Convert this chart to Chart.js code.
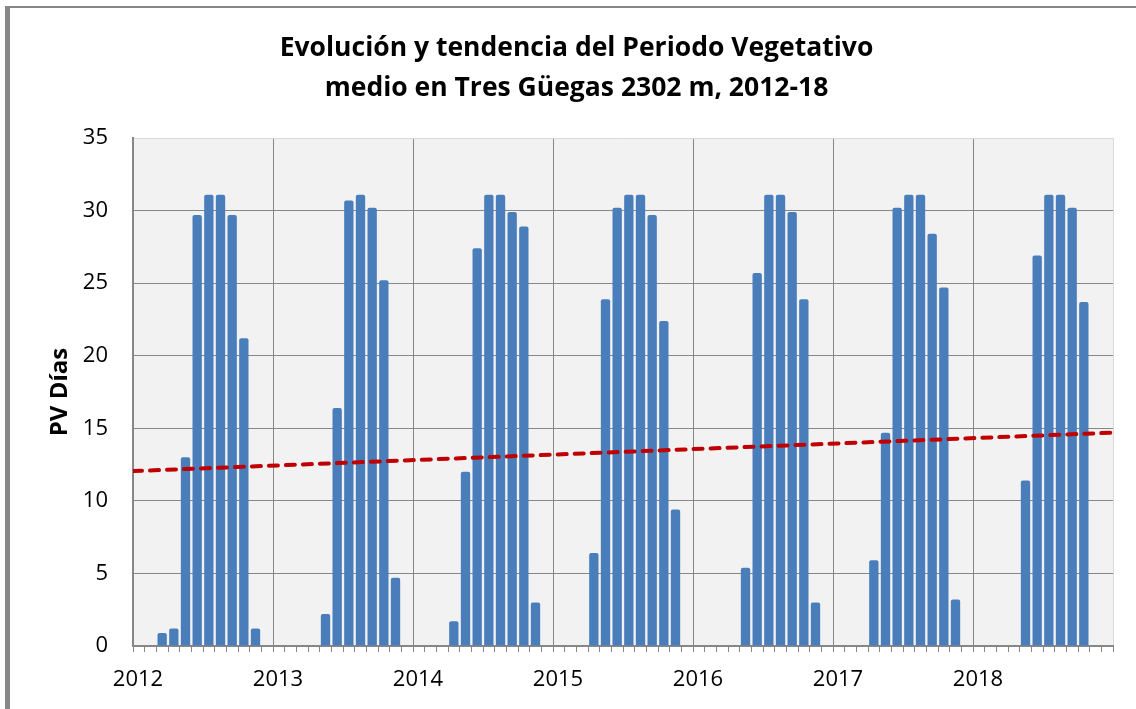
<!DOCTYPE html>
<html lang="es">
<head>
    <meta charset="UTF-8">
    <title>Periodo Vegetativo Tres Güegas</title>
    <script src="https://cdn.jsdelivr.net/npm/chart.js"></script>
    <style>
        body { margin: 0; background: #fff; }
        #wrap { position: relative; width: 1136px; height: 709px; }
        #frame {
            position: absolute; left: 5px; top: 6px; right: -10px; bottom: -10px;
            border-left: 5px solid #878787; border-top: 2px solid #878787;
            pointer-events: none;
        }
    </style>
</head>
<body>
    <div id="wrap">
        <canvas id="pvChart"></canvas>
        <div id="frame"></div>
    </div>

    <script>
        // Años y meses del eje
        var years = ['2012', '2013', '2014', '2015', '2016', '2017', '2018'];
        var months = ['ene', 'feb', 'mar', 'abr', 'may', 'jun', 'jul', 'ago', 'sep', 'oct', 'nov', 'dic'];

        // Días de periodo vegetativo por mes
        var pv2012 = [0, 0, 0.9, 1.2, 13.0, 29.7, 31.1, 31.1, 29.7, 21.2, 1.2, 0];
        var pv2013 = [0, 0, 0, 0, 2.2, 16.4, 30.7, 31.1, 30.2, 25.2, 4.7, 0];
        var pv2014 = [0, 0, 0, 1.7, 12.0, 27.4, 31.1, 31.1, 29.9, 28.9, 3.0, 0];
        var pv2015 = [0, 0, 0, 6.4, 23.9, 30.2, 31.1, 31.1, 29.7, 22.4, 9.4, 0];
        var pv2016 = [0, 0, 0, 0, 5.4, 25.7, 31.1, 31.1, 29.9, 23.9, 3.0, 0];
        var pv2017 = [0, 0, 0, 5.9, 14.7, 30.2, 31.1, 31.1, 28.4, 24.7, 3.2, 0];
        var pv2018 = [0, 0, 0, 0, 11.4, 26.9, 31.1, 31.1, 30.2, 23.7, 0, 0];

        // Línea de tendencia: valor al inicio (ene 2012) y al final (dic 2018)
        var trendStart = 12.05;
        var trendEnd = 14.7;

        var yTicks = [0, 5, 10, 15, 20, 25, 30, 35];

        var pvValues = [].concat(pv2012, pv2013, pv2014, pv2015, pv2016, pv2017, pv2018);
        var nMonths = years.length * months.length;

        // cada mes ocupa una unidad del eje; la barra va en el centro del mes
        var barData = pvValues.map(function(v, i) {
            return { x: i + 0.5, y: v };
        });

        var gridColor = '#878787';
        var fontFamily = '"Open Sans", sans-serif';

        // Fondo gris del área de trazado
        var plotBg = {
            id: 'plotBg',
            beforeDraw: function(chart) {
                var a = chart.chartArea;
                chart.ctx.save();
                chart.ctx.fillStyle = '#f2f2f2';
                chart.ctx.fillRect(a.left, a.top, a.right - a.left, a.bottom - a.top);
                chart.ctx.restore();
            }
        };

        var ctx = document.getElementById('pvChart').getContext('2d');
        var pvChart = new Chart(ctx, {
            type: 'bar',
            data: {
                datasets: [{
                    label: 'PV Días',
                    data: barData,
                    backgroundColor: '#4a7ebb',
                    borderWidth: 0,
                    borderRadius: 2,
                    grouped: false,
                    barPercentage: 0.8,
                    categoryPercentage: 1,
                    order: 2
                }, {
                    type: 'line',
                    label: 'Tendencia',
                    data: [{ x: 0, y: trendStart }, { x: nMonths, y: trendEnd }],
                    borderColor: '#c00000',
                    borderWidth: 4,
                    borderDash: [9, 8],
                    borderCapStyle: 'round',
                    pointRadius: 0,
                    fill: false,
                    order: 1
                }]
            },
            options: {
                responsive: true,
                maintainAspectRatio: false,
                animation: false,
                layout: { padding: { left: 40, right: 23, top: 0, bottom: 0 } },
                plugins: {
                    legend: { display: false },
                    tooltip: { enabled: false },
                    title: {
                        display: true,
                        text: ['Evolución y tendencia del Periodo Vegetativo', 'medio en Tres Güegas 2302 m, 2012-18'],
                        color: '#000',
                        font: { family: fontFamily, size: 26.5, weight: 'bold', lineHeight: 1.51 },
                        padding: { top: 28, bottom: 30 }
                    }
                },
                scales: {
                    x: {
                        type: 'linear',
                        position: 'bottom',
                        min: 0,
                        max: nMonths,
                        offset: false,
                        afterFit: function(scale) { scale.height = 63; },
                        border: { color: gridColor, width: 2 },
                        grid: {
                            offset: false,
                            lineWidth: 1,
                            tickLength: 6,
                            tickColor: gridColor,
                            color: function(c) {
                                var v = c.tick && c.tick.value;
                                if (v === nMonths) return '#d9d9d9';
                                return v % 12 === 0 ? gridColor : 'rgba(0,0,0,0)';
                            }
                        },
                        ticks: {
                            stepSize: 1,
                            autoSkip: false,
                            maxTicksLimit: 200,
                            maxRotation: 0,
                            padding: 15,
                            labelOffset: 5,
                            color: '#000',
                            font: { family: fontFamily, size: 22 },
                            callback: function(v) {
                                if (v % 12 === 0 && v < nMonths) return years[v / 12];
                                return '';
                            }
                        }
                    },
                    y: {
                        min: 0,
                        max: 35,
                        afterFit: function(scale) { scale.width = 93; },
                        afterBuildTicks: function(scale) {
                            scale.ticks = yTicks.map(function(v) { return { value: v }; });
                        },
                        border: { color: gridColor, width: 2 },
                        grid: {
                            lineWidth: 1,
                            drawTicks: false,
                            color: function(c) {
                                return c.tick && c.tick.value === 35 ? '#d9d9d9' : gridColor;
                            }
                        },
                        ticks: {
                            padding: 25,
                            color: '#000',
                            font: { family: fontFamily, size: 22 }
                        },
                        title: {
                            display: true,
                            text: 'PV Días',
                            color: '#000',
                            font: { family: fontFamily, size: 24, weight: 'bold' },
                            padding: { top: 6, bottom: 0 }
                        }
                    }
                }
            },
            plugins: [plotBg]
        });
    </script>
</body>
</html>
